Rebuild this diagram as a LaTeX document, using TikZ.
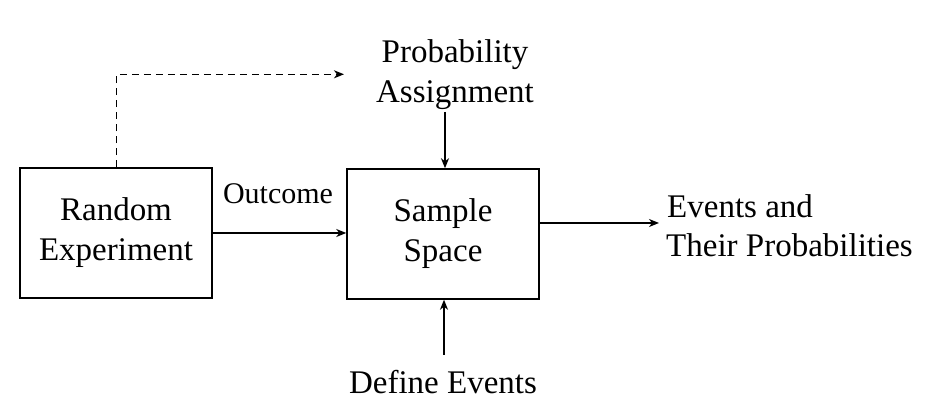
\documentclass[tikz,border=0pt]{standalone}
\usepackage{fontspec}
\setmainfont{Liberation Serif}
\usetikzlibrary{arrows.meta}
\begin{document}
\begin{tikzpicture}[x=1pt,y=1pt,
  box/.style={draw, line width=1.5pt, minimum width=192pt, minimum height=130pt, inner sep=0pt, align=center, font=\fontsize{33}{40}\selectfont},
  lbl/.style={inner sep=0pt, font=\fontsize{33}{40}\selectfont},
  arr/.style={line width=1.5pt, -{Stealth[length=10pt,width=8pt,inset=3pt]}},
  darr/.style={line width=1.5pt, dash pattern=on 7pt off 5pt, -{Stealth[length=10pt,width=8pt,inset=3pt]}}]
\useasboundingbox (0,0) rectangle (927,414);
\node[box] (R) at (116,181) {Random\\Experiment};
\node[box] (S) at (443,180) {Sample\\Space};
\node[lbl, align=center] (P) at (455,339.5) {Probability\\Assignment};
\node[lbl, anchor=base] (D) at (443,20.7) {Define Events};
\node[lbl, anchor=base, font=\fontsize{30}{34}\selectfont] (O) at (278,210.7) {Outcome};
\node[lbl, anchor=base west] (E1) at (667,196) {Events and};
\node[lbl, anchor=base west] (E2) at (666,157) {Their Probabilities};
\coordinate (dc) at (116.7,339.7);
\coordinate (dend) at (344,339.7);
\coordinate (evt) at (659,191);
\coordinate (pa) at (445,302);
\coordinate (de) at (444,59);
% connectors
\draw[arr] (R.east |- 0,181) -- (S.west |- 0,181);
\draw[arr] ([yshift=11pt]S.east) -- (evt);
\draw[arr] (pa) -- (pa |- S.north);
\draw[arr] (de) -- (de |- S.south);
\draw[darr] (R.north -| dc) -- (dc) -- (dend);
\end{tikzpicture}
\end{document}
